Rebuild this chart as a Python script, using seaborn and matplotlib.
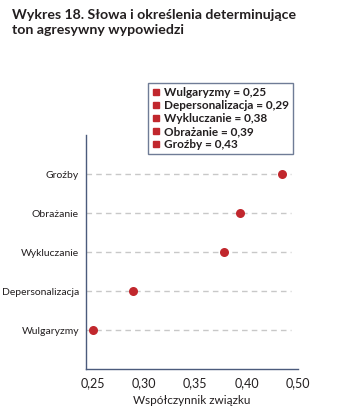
import matplotlib
matplotlib.use('Agg')
import matplotlib.pyplot as plt
import seaborn as sns
import pandas as pd
from matplotlib.lines import Line2D

# dane (od góry do dołu)
categories = ['Groźby', 'Obrażanie', 'Wykluczanie', 'Depersonalizacja', 'Wulgaryzmy']
values = [0.435, 0.394, 0.378, 0.289, 0.25]
legend_values = ['0,43', '0,39', '0,38', '0,29', '0,25']
xticks = [0.25, 0.30, 0.35, 0.40, 0.45]
xtick_labels = ['0,25', '0,30', '0,35', '0,40', '0,50']

df = pd.DataFrame({'kategoria': categories, 'wartosc': values})

sns.set_style('white')
plt.rcParams['font.family'] = ['Lato', 'DejaVu Sans']

red = '#c1272d'
spine = '#4b5b7c'
text = '#231f20'

fig = plt.figure(figsize=(3.61, 4.17), dpi=100)
ax = fig.add_axes([0.238, 0.115, 0.587, 0.561])

# przerywane linie pomocnicze
for i in range(len(categories)):
    ax.axhline(i, xmin=0, xmax=0.97, color='#c8c8c8', lw=1, ls=(0, (4, 3)), zorder=0)

sns.stripplot(data=df, x='wartosc', y='kategoria', order=categories, jitter=False,
              color=red, size=6.5, linewidth=0, ax=ax, zorder=3)

ax.set_xlim(0.2432, 0.45)
ax.set_ylim(len(categories), -1)
ax.set_xticks(xticks)
ax.set_xticklabels(xtick_labels, fontsize=9, color=text)
ax.tick_params(axis='x', direction='in', length=4, color=spine, width=1, pad=6)
ax.tick_params(axis='y', length=0, pad=5, labelsize=7.5, labelcolor=text)
ax.set_ylabel('')
ax.set_xlabel('Współczynnik związku', fontsize=8.5, color=text, labelpad=4)

for s in ['top', 'right']:
    ax.spines[s].set_visible(False)
for s in ['left', 'bottom']:
    ax.spines[s].set_color(spine)
    ax.spines[s].set_linewidth(1)

# legenda (rosnąco)
handles = [Line2D([], [], marker='s', ls='', color=red, markersize=4)
           for _ in categories]
labels = [f'{c} = {v}' for c, v in zip(categories, legend_values)]
leg = fig.legend(handles[::-1], labels[::-1], loc='upper left',
                 bbox_to_anchor=(0.41, 0.801), bbox_transform=fig.transFigure,
                 fontsize=8.5, frameon=True, fancybox=False, borderpad=0.35,
                 labelspacing=0.17, handlelength=0.6, handletextpad=0.4,
                 borderaxespad=0)
leg.get_frame().set_edgecolor(spine)
leg.get_frame().set_linewidth(1)
for t in leg.get_texts():
    t.set_fontweight('bold')
    t.set_color(text)
leg.set_zorder(5)

fig.text(0.033, 0.978, 'Wykres 18. Słowa i określenia determinujące\nton agresywny wypowiedzi',
         ha='left', va='top', fontsize=10.2, fontweight='bold', color=text, linespacing=1.25)

fig.savefig('out.png', dpi=100)
